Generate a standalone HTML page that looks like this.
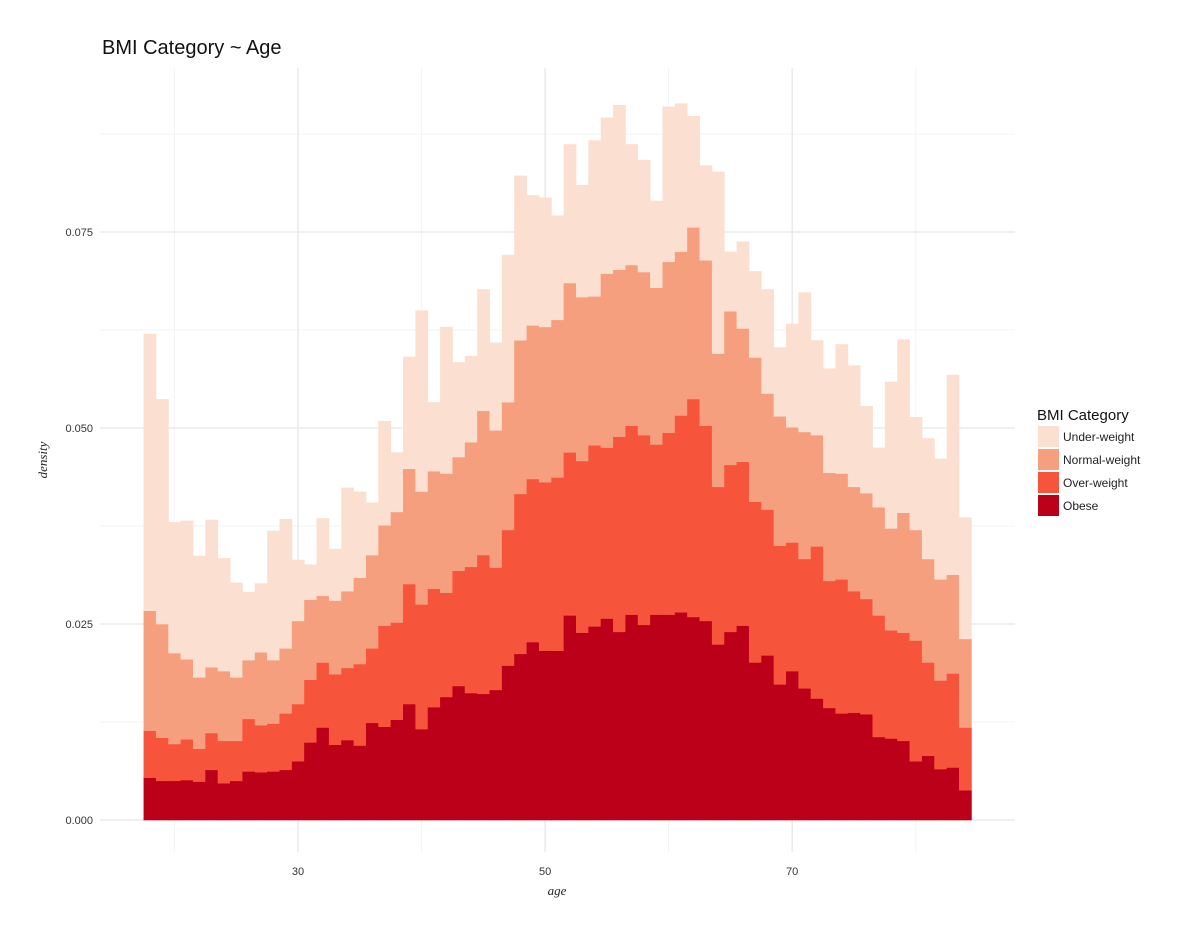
<!DOCTYPE html>
<html><head><meta charset="utf-8"><style>
body{margin:0;background:#fff;}
svg text{font-family:"Liberation Sans",sans-serif;}
</style></head><body>
<svg id="chart" width="1200" height="936" xmlns="http://www.w3.org/2000/svg">
<text x="102" y="54" font-size="20" fill="#111">BMI Category ~ Age</text>
<g id="grid"></g><g id="bars"></g><g id="axes"></g>
<text transform="translate(47,460) rotate(-90)" text-anchor="middle" font-size="13" font-style="italic" font-family="Liberation Serif,serif" fill="#222" style="font-family:'Liberation Serif',serif">density</text>
<text x="557" y="895" text-anchor="middle" font-size="13" font-style="italic" fill="#222" style="font-family:'Liberation Serif',serif">age</text>
<g id="legend"></g>
</svg>
<script>
const ages=[];for(let a=18;a<=84;a++)ages.push(a);
const categories=["Under-weight","Normal-weight","Over-weight","Obese"];
const colors=["#fbe0d2","#f69f7e","#f6553b","#bc0019"];
const obese=[54,50,50,51,49,64,47,50,62,61,62,64,75,99,118,96,102,95,124,119,128,148,116,144,157,171,162,161,166,197,212,227,216,216,261,239,247,257,240,262,249,262,262,265,259,254,224,240,248,201,210,173,190,168,155,143,136,137,135,106,104,101,75,82,65,67,38];
const over=[60,55,47,52,42,47,54,51,67,60,61,72,73,80,83,90,92,104,95,129,124,153,159,151,133,147,161,177,156,173,204,208,215,221,208,219,231,218,249,241,242,217,232,251,278,249,201,213,209,205,186,177,164,165,194,162,171,155,147,155,138,138,154,119,113,120,80];
const normal=[153,145,116,102,91,84,89,81,75,93,81,83,106,102,85,94,98,110,119,128,141,147,144,150,152,145,159,184,175,163,196,196,198,201,216,209,190,222,213,205,208,200,218,209,219,211,170,196,170,184,148,165,147,162,142,138,135,133,135,138,130,153,141,132,129,126,113];
const under=[353,287,167,177,155,188,144,121,87,88,165,165,78,45,99,66,132,110,67,133,76,143,231,88,187,121,110,155,112,188,210,166,165,133,177,143,199,199,210,154,143,111,198,189,142,121,232,76,111,110,133,88,132,178,121,133,165,155,111,76,187,221,144,154,154,255,155];
const yTicks=[0,0.025,0.05,0.075];
const yTickLabels=["0.000","0.025","0.050","0.075"];
const xTicks=[30,50,70];
const xTickLabels=["30","50","70"];
const NS="http://www.w3.org/2000/svg";
const X=a=>298+(a-30)*12.355;
const Y=v=>820-v*7840;
function mk(tag,attrs,parent){const e=document.createElementNS(NS,tag);for(const k in attrs)e.setAttribute(k,attrs[k]);parent.appendChild(e);return e;}
const grid=document.getElementById('grid');
for(let v=0.0125;v<0.09;v+=0.025){const l=mk('line',{x1:100,x2:1015,y1:Y(v),y2:Y(v),stroke:'#f3f3f3','stroke-width':1},grid);

}
[20,40,60,80].forEach(a=>{const l=mk('line',{x1:X(a),x2:X(a),y1:68,y2:852,stroke:'#f3f3f3','stroke-width':1},grid);

});
yTicks.forEach((v,i)=>{const l=mk('line',{x1:100,x2:1015,y1:Y(v),y2:Y(v),stroke:'#e6e6e6','stroke-width':1.3},grid);


const t=mk('text',{x:93,y:Y(v)+4,'text-anchor':'end','font-size':11,fill:'#333'},document.getElementById('axes'));t.textContent=yTickLabels[i];

});
xTicks.forEach((a,i)=>{const l=mk('line',{x1:X(a),x2:X(a),y1:68,y2:852,stroke:'#e6e6e6','stroke-width':1.3},grid);


const t=mk('text',{x:X(a),y:875,'text-anchor':'middle','font-size':11,fill:'#333'},document.getElementById('axes'));t.textContent=xTickLabels[i];

});
const bars=document.getElementById('bars');
const series=[obese,over,normal,under];const sColors=[colors[3],colors[2],colors[1],colors[0]];
ages.forEach((a,i)=>{let base=0;series.forEach((s,k)=>{const v=s[i]/10000;const x0=X(a-0.5),x1=X(a+0.5);
const r=mk('rect',{x:x0,y:Y(base+v),width:x1-x0+0.4,height:Y(base)-Y(base+v)+0.3,fill:sColors[k]},bars);


base+=v;});});
const lg=document.getElementById('legend');
const lt=mk('text',{x:1037,y:420,'font-size':15,fill:'#111'},lg);lt.textContent="BMI Category";


categories.forEach((c,i)=>{const y=426+i*23;
const r=mk('rect',{x:1038,y:y,width:21,height:21,fill:colors[i]},lg);


const t=mk('text',{x:1063,y:y+15,'font-size':12,fill:'#222'},lg);t.textContent=c;

});
</script>
</body></html>
